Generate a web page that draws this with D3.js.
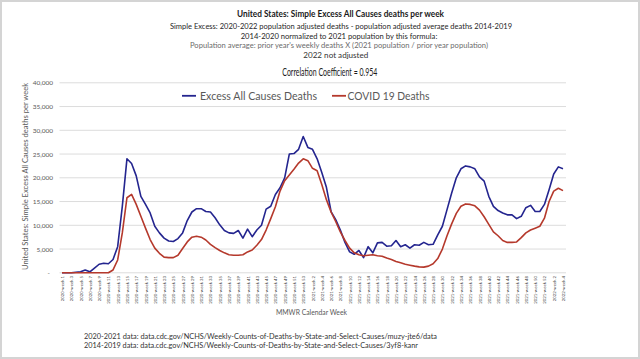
<!DOCTYPE html>
<html><head><meta charset="utf-8">
<script src="https://cdn.jsdelivr.net/npm/d3@7"></script>
<style>
html,body{margin:0;padding:0;background:#fff;}
svg{display:block;}
text{font-family:Lato,"Open Sans",sans-serif;}
</style></head>
<body>
<script>
const weeks = [
"2020-week 1","2020-week 2","2020-week 3","2020-week 4","2020-week 5","2020-week 6","2020-week 7","2020-week 8","2020-week 9","2020-week 10",
"2020-week 11","2020-week 12","2020-week 13","2020-week 14","2020-week 15","2020-week 16","2020-week 17","2020-week 18","2020-week 19","2020-week 20",
"2020-week 21","2020-week 22","2020-week 23","2020-week 24","2020-week 25","2020-week 26","2020-week 27","2020-week 28","2020-week 29","2020-week 30",
"2020-week 31","2020-week 32","2020-week 33","2020-week 34","2020-week 35","2020-week 36","2020-week 37","2020-week 38","2020-week 39","2020-week 40",
"2020-week 41","2020-week 42","2020-week 43","2020-week 44","2020-week 45","2020-week 46","2020-week 47","2020-week 48","2020-week 49","2020-week 50",
"2020-week 51","2020-week 52","2020-week 53",
"2021-week 1","2021-week 2","2021-week 3","2021-week 4","2021-week 5","2021-week 6","2021-week 7","2021-week 8","2021-week 9","2021-week 10",
"2021-week 11","2021-week 12","2021-week 13","2021-week 14","2021-week 15","2021-week 16","2021-week 17","2021-week 18","2021-week 19","2021-week 20",
"2021-week 21","2021-week 22","2021-week 23","2021-week 24","2021-week 25","2021-week 26","2021-week 27","2021-week 28","2021-week 29","2021-week 30",
"2021-week 31","2021-week 32","2021-week 33","2021-week 34","2021-week 35","2021-week 36","2021-week 37","2021-week 38","2021-week 39","2021-week 40",
"2021-week 41","2021-week 42","2021-week 43","2021-week 44","2021-week 45","2021-week 46","2021-week 47","2021-week 48","2021-week 49","2021-week 50",
"2021-week 51","2021-week 52",
"2022-week 1","2022-week 2","2022-week 3","2022-week 4"];

const excessDeaths = [
0,0,0,100,200,600,200,1000,1800,2000,
1900,2800,5500,14000,24000,23000,20400,16100,14400,12600,
9800,8400,7300,6700,6600,7200,8400,11000,12800,13500,
13500,12900,12800,11600,10100,8900,8400,8300,8900,7300,
9200,7600,9000,10000,13400,14000,16500,17900,20000,25000,
25100,26000,28700,26400,26000,24000,21100,18000,12900,11200,
9000,6400,4400,3900,4700,3200,5500,4200,6300,6400,
5600,5700,6800,5500,5900,5200,5900,5800,6400,5900,
6000,8000,9800,13300,16800,20000,21900,22500,22300,21900,
20200,19300,16100,14000,13100,12600,12200,12200,11400,11900,
13700,14200,12900,12900,14400,17500,20800,22300,21900];

const covidDeaths = [
0,0,0,0,0,0,0,0,0,0,
0,600,2700,8400,15800,16500,14400,11900,9400,7000,
5200,4100,3300,3200,3200,3700,5100,6500,7500,7700,
7500,6900,6000,5300,4700,4200,3800,3700,3700,3800,
4400,4800,5800,7000,9000,11400,13900,17200,19400,20600,
21800,23100,24000,23600,22000,21500,18600,15400,12800,10800,
8600,6800,5200,4200,3800,3600,3700,3800,3600,3500,
3100,2800,2400,2100,1800,1600,1400,1250,1200,1400,
1900,3000,5000,7800,10300,12500,14000,14500,14400,14100,
13200,11800,10200,8600,7800,6800,6400,6400,6500,7400,
8400,9000,9400,9800,11500,15000,17200,17800,17300];

const yTicks = [0,5000,10000,15000,20000,25000,30000,35000,40000];
const seriesNames = ["Excess All Causes Deaths","COVID 19 Deaths"];
const seriesColors = ["#24258f","#b5392c"];
const titleLines = [
 "United States: Simple Excess All Causes deaths per week",
 "Simple Excess: 2020-2022 population adjusted deaths - population adjusted average deaths 2014-2019",
 "2014-2020 normalized to 2021 population by this formula:",
 "Population average: prior year's weekly deaths  X (2021 population / prior year population)",
 "2022 not adjusted",
 "Correlation Coefficient = 0.954"];
const footnotes = [
 "2020-2021 data: data.cdc.gov/NCHS/Weekly-Counts-of-Deaths-by-State-and-Select-Causes/muzy-jte6/data",
 "2014-2019 data: data.cdc.gov/NCHS/Weekly-Counts-of-Deaths-by-State-and-Select-Causes/3yf8-kanr"];

const W = 640, H = 359;
const svg = d3.select("body").append("svg").attr("width", W).attr("height", H);

svg.append("rect").attr("x",1).attr("y",1).attr("width",W-2).attr("height",H-2)
  .attr("fill","#fff").attr("stroke","#d4d4d4").attr("stroke-width",2);

const x = d3.scalePoint().domain(weeks).range([62, 563]);
const y = d3.scaleLinear().domain([0, 40000]).range([272.8, 82.8]);

// gridlines
svg.append("g").selectAll("line").data(yTicks).join("line")
  .attr("x1", 59.5).attr("x2", 566).attr("y1", d => y(d)).attr("y2", d => y(d))
  .attr("stroke", "#dcdcdc").attr("stroke-width", 1);

// y axis labels
const yAxis = d3.axisLeft(y).tickValues(yTicks).tickSize(0).tickPadding(0)
  .tickFormat(d => d === 0 ? "-" : d3.format(",")(d));
const yg = svg.append("g").attr("transform","translate(53,0)").call(yAxis);
yg.select(".domain").remove();
yg.selectAll("text").attr("font-size",6.5).attr("fill","#595959")
  .attr("font-family","Lato, sans-serif").attr("dy","0.32em");
yg.selectAll("text").filter(d => d === 0).attr("dx", -3);

// x axis labels
const xAxis = d3.axisBottom(x).tickValues(weeks.filter((d,i) => i % 2 === 0)).tickSize(0).tickPadding(0);
const xg = svg.append("g").attr("transform","translate(0,276)").call(xAxis);
xg.select(".domain").remove();
xg.selectAll("text").attr("font-size",4.3).attr("fill","#404040")
  .attr("font-family","Lato, sans-serif")
  .attr("transform","rotate(-90)").attr("text-anchor","end")
  .attr("x",0).attr("y",0).attr("dx",0).attr("dy","0.35em");

// lines
const line = d3.line().x((d,i) => x(weeks[i])).y(d => y(d));
[excessDeaths, covidDeaths].forEach((s, k) => {
  svg.append("path").datum(s).attr("d", line).attr("fill","none")
    .attr("stroke", seriesColors[k]).attr("stroke-width",1.6)
    .attr("stroke-linejoin","round");
});

// legend
const legendPos = [{lx:182, tx:200, tl:117},{lx:332, tx:347.5, tl:82}];
seriesNames.forEach((n,k) => {
  const p = legendPos[k];
  svg.append("line").attr("x1",p.lx).attr("x2",p.lx+14).attr("y1",95.8).attr("y2",95.8)
    .attr("stroke",seriesColors[k]).attr("stroke-width",1.8);
  svg.append("text").attr("x",p.tx).attr("y",100).attr("font-size",11.5).attr("fill","#595959")
    .attr("textLength",p.tl).attr("lengthAdjust","spacingAndGlyphs").text(n);
});

// titles
const titleSpec = [
  {x:237, y:16.5, len:207, size:9, w:"bold", c:"#1a1a1a"},
  {x:170, y:29, len:342, size:8, w:"normal", c:"#262626"},
  {x:240.7, y:38.5, len:196.6, size:8, w:"normal", c:"#262626"},
  {x:190, y:47.5, len:298, size:7, w:"normal", c:"#6b6b6b"},
  {x:303.3, y:57.5, len:65, size:7.5, w:"normal", c:"#333"},
  {x:282.3, y:76, len:95, size:10.5, w:"normal", c:"#1a1a1a"}];
titleLines.forEach((t,i) => {
  const s = titleSpec[i];
  svg.append("text").attr("x",s.x).attr("y",s.y).attr("font-size",s.size)
    .attr("font-weight",s.w).attr("fill",s.c)
    .attr("textLength",s.len).attr("lengthAdjust","spacingAndGlyphs").text(t);
});

// axis titles
svg.append("text").attr("transform","translate(27.5,176.5) rotate(-90)")
  .attr("text-anchor","middle").attr("font-size",7.5).attr("fill","#595959")
  .attr("textLength",187).attr("lengthAdjust","spacingAndGlyphs")
  .text("United States: Simple Excess All Causes deaths per week");
svg.append("text").attr("x",276).attr("y",315).attr("font-size",8).attr("fill","#595959")
  .attr("textLength",71).attr("lengthAdjust","spacingAndGlyphs").text("MMWR Calendar Week");

// footnotes
const footSpec = [{y:339.3, len:353},{y:348.3, len:334}];
footnotes.forEach((f,i) => {
  svg.append("text").attr("x",84).attr("y",footSpec[i].y).attr("font-size",7.3).attr("fill","#333")
    .attr("textLength",footSpec[i].len).attr("lengthAdjust","spacingAndGlyphs").text(f);
});
</script>
</body></html>
